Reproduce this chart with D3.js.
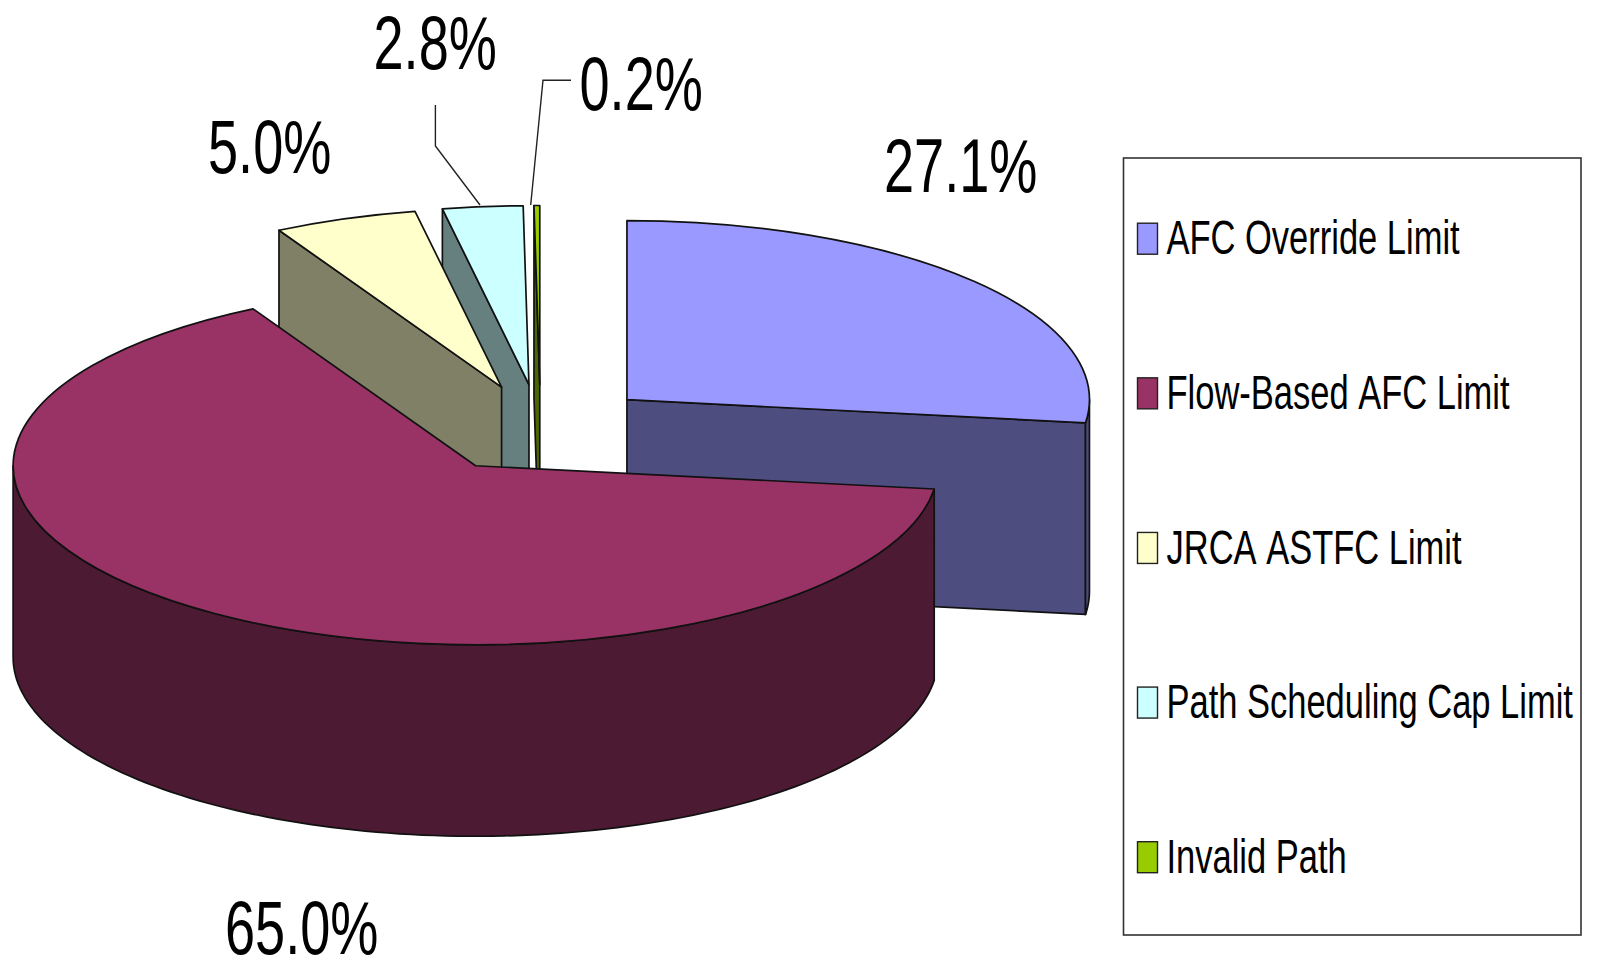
<!DOCTYPE html>
<html>
<head>
<meta charset="utf-8">
<script src="https://cdn.jsdelivr.net/npm/d3@7"></script>
<style>
html,body{margin:0;padding:0;background:#fff;overflow:hidden}
svg{display:block}
text{font-family:"Liberation Sans",Arial,sans-serif;fill:#000;font-kerning:none}
</style>
</head>
<body>
<svg id="chart" width="1599" height="963"></svg>
<script>
// ---- data ----
const categories = ["AFC Override Limit","Flow-Based AFC Limit","JRCA ASTFC Limit","Path Scheduling Cap Limit","Invalid Path"];
const shares = [27.1,65.0,5.0,2.8,0.2];
const shareLabels = ["27.1%","65.0%","5.0%","2.8%","0.2%"];
const topColors = ["#9999FF","#993366","#FFFFCC","#CCFFFF","#99CC00"];
const sideColors = ["#4D4D80","#4D1A33","#808066","#668080","#4D6600"];

// ---- layout ----
const W=1599,H=963;
const cx=540.5, cy=429, R=462.5, tilt=0.387, depth=191.5, explode=115;
const paintOrder=[0,4,3,2,1];
const labelPos=[[884,191.5],[225,954],[208,172.7],[373.5,69.3],[579.5,110]];
const leaders={3:[[435.4,105],[435.4,146],[480,205]],4:[[571,80.3],[543,80.3],[530.7,205]]};
const legendBox={x:1123.5,y:158,w:457.5,h:777};

const svg=d3.select("#chart");
const arcs=d3.pie().sort(null).value(d=>d)(shares);
const arcGen=d3.arc().innerRadius(0).outerRadius(R);
const line=d3.line();
const stroke="#111";
const sw=1.7;

function apex(a){
  const m=(a.startAngle+a.endAngle)/2;
  return [cx+explode*Math.sin(m), cy-explode*Math.cos(m)*tilt];
}
function rim(c,t,dz=0){
  return [c[0]+R*Math.sin(t), c[1]-R*tilt*Math.cos(t)+dz];
}
const gPie=svg.append("g");
paintOrder.forEach(i=>{
  const a=arcs[i], c=apex(a), g=gPie.append("g");
  const wallFace=t=>{
    const p=rim(c,t), q=rim(c,t,depth);
    g.append("path")
      .attr("d",line([c,p,q,[c[0],c[1]+depth]])+"Z")
      .attr("fill",sideColors[i]).attr("stroke",stroke).attr("stroke-width",sw).attr("stroke-linejoin","round");
  };
  if(Math.sin(a.startAngle)<-1e-6) wallFace(a.startAngle);
  if(Math.sin(a.endAngle)>1e-6) wallFace(a.endAngle);
  // outer wall: only the part facing the viewer
  const t0=Math.max(a.startAngle,Math.PI/2), t1=Math.min(a.endAngle,Math.PI*1.5);
  if(t1>t0){
    const ts=d3.range(0,121).map(k=>t0+(t1-t0)*k/120);
    const upper=ts.map(t=>rim(c,t)), lower=ts.map(t=>rim(c,t,depth)).reverse();
    g.append("path").attr("d",line(upper.concat(lower))+"Z")
      .attr("fill",sideColors[i]).attr("stroke",stroke).attr("stroke-width",sw).attr("stroke-linejoin","round");
  }
  // top face
  g.append("path").attr("d",arcGen(a))
    .attr("transform",`translate(${c[0]},${c[1]}) scale(1,${tilt})`)
    .attr("fill",topColors[i]).attr("stroke",stroke).attr("stroke-width",sw)
    .attr("stroke-linejoin","round").attr("vector-effect","non-scaling-stroke");
});

// leader lines
Object.values(leaders).forEach(pts=>{
  svg.append("path").attr("d",line(pts)).attr("fill","none").attr("stroke","#222").attr("stroke-width",1.4);
});

// value labels
shareLabels.forEach((s,i)=>{
  svg.append("text").text(s)
    .attr("transform",`translate(${labelPos[i][0]},${labelPos[i][1]}) scale(0.712,1)`)
    .attr("font-size",76);
});

// legend
svg.append("rect").attr("x",legendBox.x).attr("y",legendBox.y).attr("width",legendBox.w).attr("height",legendBox.h)
  .attr("fill","#fff").attr("stroke","#333").attr("stroke-width",1.6);
const ly=d3.scalePoint().domain(categories).range([238.7,857.2]);
categories.forEach((n,i)=>{
  const y=ly(n);
  svg.append("rect").attr("x",1137.5).attr("y",y-15.5).attr("width",20).attr("height",31)
    .attr("fill",topColors[i]).attr("stroke","#222").attr("stroke-width",1.4);
  svg.append("text").text(n)
    .attr("transform",`translate(1166.5,${y+15.6}) scale(0.704,1)`)
    .attr("font-size",49);
});
</script>
</body>
</html>
